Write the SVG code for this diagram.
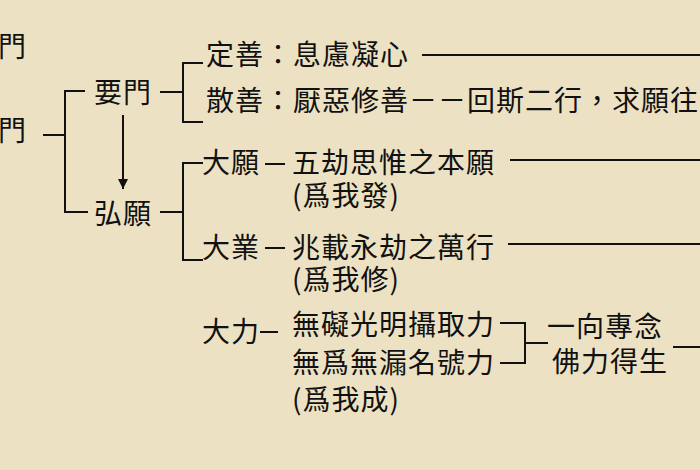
<svg xmlns="http://www.w3.org/2000/svg" width="700" height="470" viewBox="0 0 700 470">
<style>
text{font-family:"Noto Sans CJK TC","Noto Sans CJK SC",sans-serif;font-size:28px;letter-spacing:1px;fill:#111}
.c line,.c path{stroke:#111;stroke-width:2;fill:none}
</style>
<defs>
<marker id="ah" markerWidth="10" markerHeight="10" refX="10" refY="5" orient="auto" markerUnits="userSpaceOnUse" viewBox="0 0 10 10">
<path d="M0,0 L10,5 L0,10 Z" fill="#111"/>
</marker>
</defs>
<rect width="700" height="470" fill="#EDE1C3"/>
<g id="n-men1"><text x="-2" y="57">門</text></g>
<g id="n-men2"><text x="-2" y="141">門</text></g>
<g id="n-yaomen"><text x="94" y="103">要門</text></g>
<g id="n-hongyuan"><text x="94" y="224">弘願</text></g>
<g id="n-dingshan"><text x="206" y="65">定善：息慮凝心</text></g>
<g id="n-sanshan"><text x="206" y="111">散善：厭惡修善－－回斯二行，求願往</text></g>
<g id="n-dayuan"><text x="202" y="173">大願</text></g>
<g id="n-wujie"><text x="292" y="173">五劫思惟之本願</text><text x="292" y="206">(爲我發)</text></g>
<g id="n-daye"><text x="202" y="258">大業</text></g>
<g id="n-zhaozai"><text x="292" y="258">兆載永劫之萬行</text><text x="292" y="290">(爲我修)</text></g>
<g id="n-dali"><text x="202" y="342">大力</text></g>
<g id="n-wuai"><text x="292" y="335">無礙光明攝取力</text><text x="292" y="373">無爲無漏名號力</text><text x="292" y="410">(爲我成)</text></g>
<g id="n-yixiang"><text x="547" y="337">一向專念</text><text x="552" y="372">佛力得生</text></g>
<g class="c" id="connectors">
<path d="M43,135 H65 M85,91 H65 V212 H88"/>
<line x1="123" y1="115" x2="123" y2="189" marker-end="url(#ah)"/>
<path d="M160,92 H183 M203,63 H183 V122 H203"/>
<path d="M160,212 H183 M203,163 H183 V260 H203"/>
<line x1="422" y1="55" x2="700" y2="55"/>
<line x1="265" y1="164" x2="285" y2="164"/>
<line x1="510" y1="160" x2="700" y2="160"/>
<line x1="265" y1="248" x2="285" y2="248"/>
<line x1="508" y1="244" x2="700" y2="244"/>
<line x1="260" y1="332" x2="278" y2="332"/>
<path d="M500,323 H525 V363 H500 M525,343 H548"/>
<line x1="673" y1="347" x2="700" y2="347"/>
</g>
</svg>
